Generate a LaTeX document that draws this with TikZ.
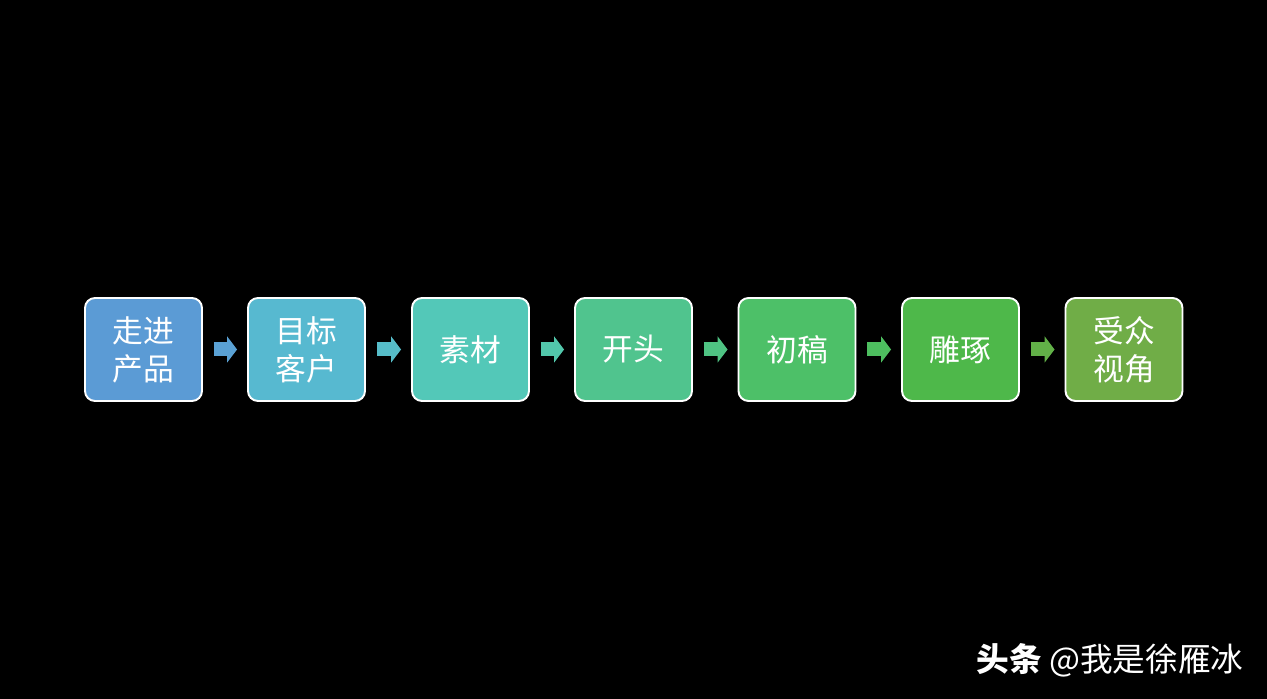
\documentclass[tikz,border=0pt]{standalone}
\usepackage{fontspec}
\usepackage{xcolor}
\usepackage{tikz}
\usetikzlibrary{arrows.meta, positioning}
\newfontfamily\cjk{Noto Sans CJK SC}
\definecolor{stepa}{HTML}{5B9BD5}
\definecolor{stepb}{HTML}{57B9D0}
\definecolor{stepc}{HTML}{53C8B8}
\definecolor{stepd}{HTML}{50C48E}
\definecolor{stepe}{HTML}{4DC068}
\definecolor{stepf}{HTML}{4EB84A}
\definecolor{stepg}{HTML}{70AD47}

\begin{document}
\begin{tikzpicture}[
  font=\cjk\fontsize{17.5pt}{21.6pt}\selectfont,
  stepbox/.style={draw=white, line width=1.1pt, rounded corners=0.2cm,
                  minimum width=2.34cm, minimum height=2.06cm,
                  text=white, align=center, inner sep=0pt},
  blockarr/.style={line width=0.28cm, shorten <=0.22cm, shorten >=0.2cm,
                   -{Triangle[length=0.2cm, width=0.52cm]}}
]
  \fill[black] (0,0) rectangle (25.34,13.98);
  \useasboundingbox (0,0) rectangle (25.34,13.98);

  \node[stepbox, fill=stepa] (s1) at (2.87,6.99)  {走进\\产品};
  \node[stepbox, fill=stepb] (s2) at (6.13,6.99)  {目标\\客户};
  \node[stepbox, fill=stepc] (s3) at (9.41,6.99)  {素材};
  \node[stepbox, fill=stepd] (s4) at (12.67,6.99) {开头};
  \node[stepbox, fill=stepe] (s5) at (15.94,6.99) {初稿};
  \node[stepbox, fill=stepf] (s6) at (19.21,6.99) {雕琢};
  \node[stepbox, fill=stepg] (s7) at (22.48,6.99) {受众\\视角};

  \draw[blockarr, stepa!80!stepb] (s1) -- (s2);
  \draw[blockarr, stepb!70!stepc] (s2) -- (s3);
  \draw[blockarr, stepc!70!stepd] (s3) -- (s4);
  \draw[blockarr, stepd!70!stepe] (s4) -- (s5);
  \draw[blockarr, stepe!70!stepf] (s5) -- (s6);
  \draw[blockarr, stepf!40!stepg] (s6) -- (s7);

  % watermark
  \node[anchor=east, text=white, inner sep=0pt,
        font=\cjk\fontsize{18.6pt}{22pt}\selectfont] (mark) at (24.88,0.78)
    {{\bfseries 头条} @我是徐雁冰};
\end{tikzpicture}
\end{document}
